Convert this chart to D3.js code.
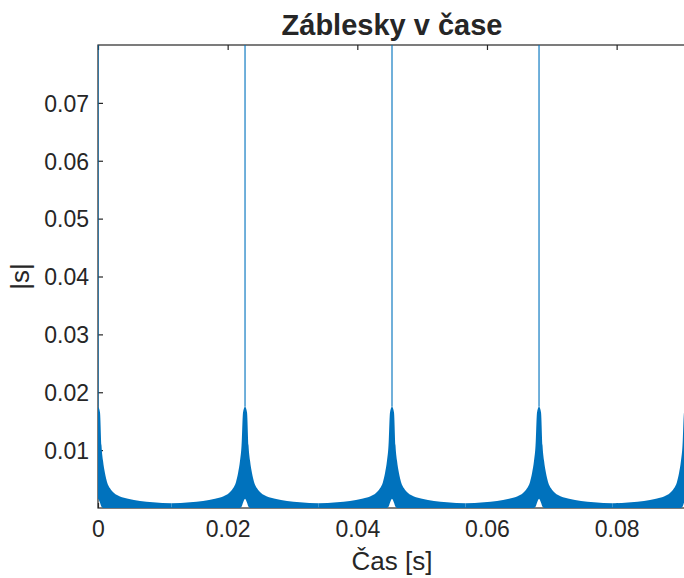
<!DOCTYPE html>
<html>
<head>
<meta charset="utf-8">
<script src="https://cdn.jsdelivr.net/npm/d3@7"></script>
<style>
  body { margin: 0; background: #fff; }
  text { font-family: "Liberation Sans", Arial, Helvetica, sans-serif; fill: #262626; }
</style>
</head>
<body>
<svg id="chart" width="684" height="578"></svg>
<script>
const width = 684;
const height = 578;

// flash peaks in time [s]
const peakTimes = [0, 0.02268, 0.04535, 0.06803, 0.0907];
// envelope around one flash: offset from peak [s] -> |s|
const envOffsets = [0, 0.00031, 0.00054, 0.00077, 0.00108, 0.00139, 0.00185, 0.00247, 0.00339, 0.00463, 0.00648, 0.00848, 0.01134];
const envUpper = [0.0175, 0.0165, 0.0108, 0.0082, 0.0060, 0.0045, 0.0034, 0.0026, 0.0020, 0.0016, 0.0012, 0.0010, 0.0008];
const envLower = [0.0016, 0.0009, 0.0002, 0, 0, 0, 0, 0, 0, 0, 0, 0, 0];
const spikeTop = 0.09;

const xTicks = [0, 0.02, 0.04, 0.06, 0.08];
const yTicks = [0.01, 0.02, 0.03, 0.04, 0.05, 0.06, 0.07];

const margin = { left: 98, top: 45, right: 686, bottom: 508 };
const axisColor = "#262626";
const lineColor = "#0072BD";

const svg = d3.select("#chart");

const x = d3.scaleLinear().domain([0, 0.0907]).range([margin.left, margin.right]);
const y = d3.scaleLinear().domain([0, 0.08]).range([margin.bottom, margin.top]);

svg.append("defs").append("clipPath").attr("id", "plotclip")
    .append("rect")
    .attr("x", margin.left)
    .attr("y", margin.top)
    .attr("width", margin.right - margin.left)
    .attr("height", margin.bottom - margin.top);

// axes box
svg.append("rect")
    .attr("x", margin.left)
    .attr("y", margin.top)
    .attr("width", margin.right - margin.left)
    .attr("height", margin.bottom - margin.top)
    .attr("fill", "none")
    .attr("stroke", axisColor)
    .attr("stroke-width", 1.2);

const bottomAxis = svg.append("g")
    .attr("transform", "translate(0," + margin.bottom + ")")
    .call(d3.axisBottom(x).tickValues(xTicks).tickSizeInner(-5).tickSizeOuter(0)
        .tickFormat(d => d === 0 ? "0" : d3.format(".2f")(d)));
bottomAxis.select(".domain").remove();
bottomAxis.selectAll("line").attr("stroke", axisColor).attr("stroke-width", 1.2);
bottomAxis.selectAll("text")
    .attr("y", 29)
    .attr("dy", 0)
    .style("font-size", "23px")
    .style("font-family", "'Liberation Sans', Arial, sans-serif")
    .attr("fill", axisColor);

const topAxis = svg.append("g")
    .attr("transform", "translate(0," + margin.top + ")")
    .call(d3.axisTop(x).tickValues(xTicks).tickSizeInner(-5).tickSizeOuter(0).tickFormat(""));
topAxis.select(".domain").remove();
topAxis.selectAll("line").attr("stroke", axisColor).attr("stroke-width", 1.2);

const leftAxis = svg.append("g")
    .attr("transform", "translate(" + margin.left + ",0)")
    .call(d3.axisLeft(y).tickValues(yTicks).tickSizeInner(-5).tickSizeOuter(0)
        .tickFormat(d3.format(".2f")));
leftAxis.select(".domain").remove();
leftAxis.selectAll("line").attr("stroke", axisColor).attr("stroke-width", 1.2);
leftAxis.selectAll("text")
    .attr("x", -9)
    .attr("dy", "0.36em")
    .style("font-size", "23px")
    .style("font-family", "'Liberation Sans', Arial, sans-serif")
    .attr("fill", axisColor);

// data
const plot = svg.append("g").attr("clip-path", "url(#plotclip)");

const area = d3.area()
    .x(d => x(d.t))
    .y0(d => y(d.lo))
    .y1(d => y(d.hi))
    .curve(d3.curveMonotoneX);

peakTimes.forEach(p => {
    const pts = [];
    for (let i = envOffsets.length - 1; i > 0; i--) {
        pts.push({ t: p - envOffsets[i], lo: envLower[i], hi: envUpper[i] });
    }
    for (let i = 0; i < envOffsets.length; i++) {
        pts.push({ t: p + envOffsets[i], lo: envLower[i], hi: envUpper[i] });
    }
    plot.append("path")
        .datum(pts)
        .attr("d", area)
        .attr("fill", lineColor);
});

plot.selectAll(".spike")
    .data(peakTimes)
    .enter()
    .append("line")
    .attr("class", "spike")
    .attr("x1", d => x(d))
    .attr("x2", d => x(d))
    .attr("y1", y(envUpper[0]))
    .attr("y2", y(spikeTop))
    .attr("stroke", lineColor)
    .attr("stroke-opacity", 0.7)
    .attr("stroke-width", 1.6);

// labels
svg.append("text")
    .attr("x", (margin.left + margin.right) / 2)
    .attr("y", 35)
    .attr("text-anchor", "middle")
    .style("font-size", "29px")
    .style("font-weight", "bold")
    .attr("fill", "#000")
    .text("Záblesky v čase");

svg.append("text")
    .attr("x", (margin.left + margin.right) / 2)
    .attr("y", 570)
    .attr("text-anchor", "middle")
    .style("font-size", "26px")
    .text("Čas [s]");

svg.append("text")
    .attr("transform", "translate(29," + (margin.top + margin.bottom) / 2 + ") rotate(-90)")
    .attr("text-anchor", "middle")
    .style("font-size", "26px")
    .text("|s|");
</script>
</body>
</html>
